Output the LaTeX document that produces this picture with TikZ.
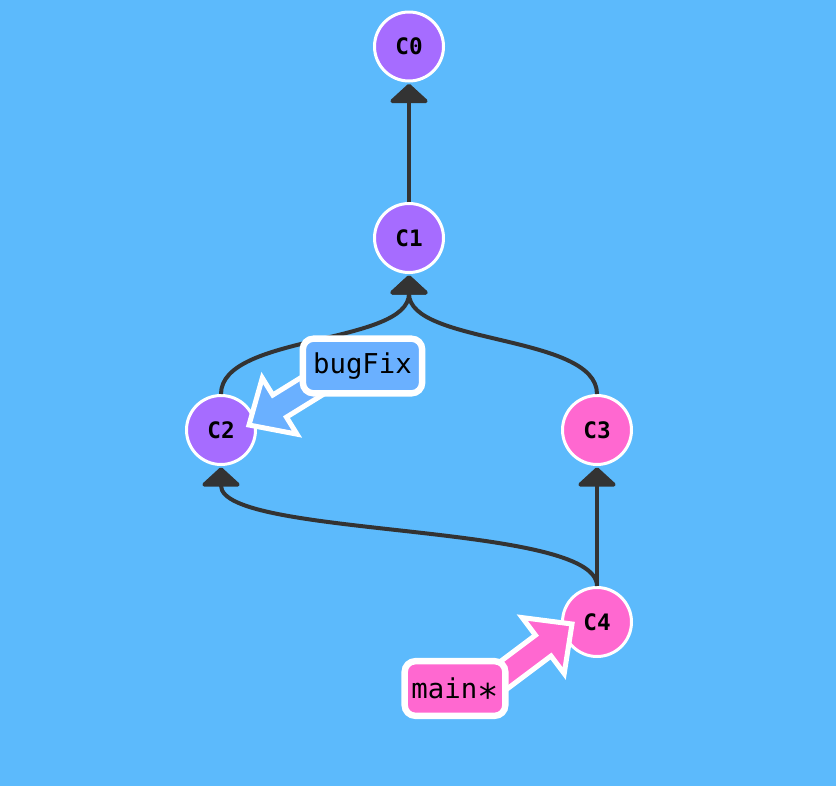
\documentclass[tikz,border=0pt]{standalone}
\usepackage{fontspec}
\newfontfamily\gitmono{DejaVu Sans Mono}
\usetikzlibrary{arrows.meta,calc}
\definecolor{bgblue}{HTML}{5CBAFC}
\definecolor{commitpurple}{HTML}{A66CFF}
\definecolor{commitpink}{HTML}{FF68D0}
\definecolor{branchblue}{HTML}{6AB0FF}
\definecolor{edgegray}{HTML}{333333}
\tikzset{
  commit/.style={circle, minimum size=51.75pt, inner sep=0pt, draw=white, line width=2.25pt,
    font=\gitmono\bfseries\fontsize{17pt}{18pt}\selectfont, text=black},
  purplec/.style={commit, fill=commitpurple},
  pinkc/.style={commit, fill=commitpink},
  edge/.style={draw=edgegray, line width=3pt,
    -{Triangle[width=32pt,length=15pt,round]}, shorten >=1pt},
  branchlabel/.style={rectangle, rounded corners=8pt, draw=white, line width=4.8pt,
    inner sep=0pt, minimum height=41pt,
    font=\gitmono\fontsize{20.5pt}{21pt}\selectfont, text=black},
  branchshape/.style={draw=white, line width=3.75pt, line join=miter},
}
\begin{document}
\begin{tikzpicture}[x=0.75pt,y=-0.75pt]
\useasboundingbox (0,0) rectangle (836,786);
\fill[bgblue] (0,0) rectangle (836,786);

% commits
\node[purplec] (C0) at (409,46.5) {C0};
\node[purplec] (C1) at (409,238) {C1};
\node[purplec] (C2) at (221,430) {C2};
\node[pinkc]   (C3) at (597,430) {C3};
\node[pinkc]   (C4) at (597,622) {C4};

% parent edges
\draw[edge] (C1.north) -- (C0.south);
\draw[edge] (C2.north) .. controls ($(C2.north)+(0,-60)$) and ($(C1.south)+(0,71)$) .. (C1.south);
\draw[edge] (C3.north) .. controls ($(C3.north)+(0,-60)$) and ($(C1.south)+(0,71)$) .. (C1.south);
\draw[edge] (C4.north) -- (C3.south);
\draw[edge] (C4.north) .. controls ($(C4.north)+(0,-64)$) and ($(C2.south)+(0,72)$) .. (C2.south);

% branch pointers
\coordinate (bfTip) at (249,425);
\coordinate (mainTip) at (572,624);
\begin{scope}[shift={(bfTip)}, rotate=31.7]
  \filldraw[branchshape, fill=branchblue] (0,0) -- (36,33) -- (36,13) -- (105,13) -- (105,-13) -- (36,-13) -- (36,-33) -- cycle;
\end{scope}
\begin{scope}[shift={(mainTip)}, rotate=216.87]
  \filldraw[branchshape, fill=commitpink] (0,0) -- (36,35) -- (36,13) -- (110,13) -- (110,-13) -- (36,-13) -- (36,-35) -- cycle;
\end{scope}

\node[branchlabel, fill=branchblue, minimum width=89.5pt] (bugFix) at (362.5,366) {bugFix};
\node[branchlabel, fill=commitpink, minimum width=75.5pt] (main) at (455,688.5) {main\raisebox{-0.38em}[0pt][0pt]{\scalebox{1.3}{*}}};
\end{tikzpicture}
\end{document}
